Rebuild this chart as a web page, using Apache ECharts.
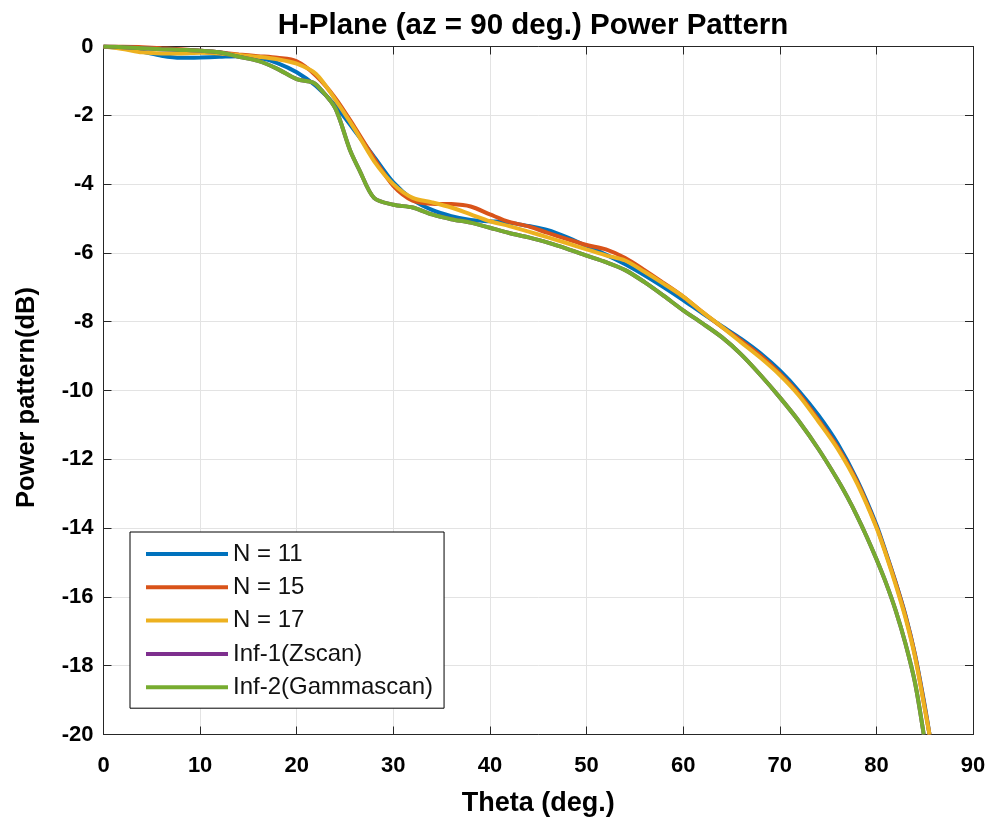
<!DOCTYPE html>
<html>
<head>
<meta charset="utf-8">
<title>H-Plane Power Pattern</title>
<script src="https://cdn.jsdelivr.net/npm/echarts@6/dist/echarts.min.js"></script>
<style>
  html, body { margin: 0; padding: 0; background: #fff; }
  #chart { width: 988px; height: 818px; }
</style>
</head>
<body>
<div id="chart"></div>
<script>
// data: [theta (deg), power (dB)]
var n11 = [[0,0],[2,-0.05],[4,-0.15],[6,-0.27],[8,-0.33],[10,-0.32],[12,-0.3],[14,-0.28],[16,-0.32],[18,-0.48],
  [20,-0.75],[22,-1.15],[24,-1.72],[26,-2.45],[28,-3.2],[30,-3.95],[32,-4.45],[34,-4.75],[36,-4.93],[38,-5.04],
  [40,-5.08],[42,-5.12],[44,-5.22],[46,-5.34],[48,-5.55],[50,-5.8],[52,-6.05],[54,-6.33],[56,-6.65],[58,-7.0],
  [60,-7.37],[62,-7.76],[64,-8.13],[66,-8.5],[68,-8.92],[70,-9.42],[72,-10.02],[74,-10.72],[76,-11.55],[78,-12.6],
  [80,-13.9],[81,-14.72],[82,-15.58],[83,-16.52],[84,-17.68],[85,-19.15],[85.5,-20]];
var n15 = [[0,0],[2,0],[4,-0.02],[6,-0.05],[8,-0.08],[10,-0.12],[12,-0.17],[14,-0.23],[16,-0.28],[18,-0.33],
  [20,-0.43],[22,-0.85],[24,-1.5],[26,-2.35],[28,-3.25],[30,-4.05],[32,-4.48],[34,-4.57],[36,-4.58],[38,-4.65],
  [40,-4.88],[42,-5.1],[44,-5.23],[46,-5.42],[48,-5.6],[50,-5.77],[52,-5.9],[54,-6.15],[56,-6.5],[58,-6.88],
  [60,-7.27],[62,-7.72],[64,-8.15],[66,-8.55],[68,-8.98],[70,-9.5],[72,-10.1],[74,-10.85],[76,-11.65],[78,-12.65],
  [80,-13.95],[81,-14.75],[82,-15.6],[83,-16.55],[84,-17.7],[85,-19.2],[85.5,-20]];
var n17 = [[0,0],[2,-0.07],[4,-0.17],[6,-0.2],[8,-0.2],[10,-0.18],[12,-0.2],[14,-0.25],[16,-0.3],[18,-0.37],
  [20,-0.5],[22,-0.8],[24,-1.55],[26,-2.4],[28,-3.33],[30,-4.0],[32,-4.4],[34,-4.53],[36,-4.68],[38,-4.88],
  [40,-5.08],[42,-5.22],[44,-5.38],[46,-5.55],[48,-5.72],[50,-5.9],[52,-6.07],[54,-6.22],[56,-6.55],[58,-6.9],
  [60,-7.27],[62,-7.72],[64,-8.15],[66,-8.6],[68,-9.05],[70,-9.55],[72,-10.15],[74,-10.9],[76,-11.7],[78,-12.7],
  [80,-13.98],[81,-14.78],[82,-15.65],[83,-16.6],[84,-17.75],[85,-19.25],[85.5,-20]];
var inf1 = [[0,0],[2,-0.02],[4,-0.05],[6,-0.08],[8,-0.1],[10,-0.12],[12,-0.17],[14,-0.3],[16,-0.42],[18,-0.65],
  [20,-0.95],[21.7,-1.05],[22.5,-1.25],[24,-1.8],[25.5,-3.0],[26.5,-3.6],[28,-4.4],[30,-4.6],[32,-4.68],[34,-4.88],
  [36,-5.02],[38,-5.12],[40,-5.27],[42,-5.42],[44,-5.55],[46,-5.7],[48,-5.88],[50,-6.08],[52,-6.27],[54,-6.5],
  [56,-6.85],[58,-7.25],[60,-7.67],[62,-8.05],[64,-8.45],[66,-8.95],[68,-9.55],[70,-10.2],[72,-10.9],[74,-11.7],
  [76,-12.6],[77,-13.1],[78,-13.65],[79,-14.25],[80,-14.9],[81,-15.6],[82,-16.4],[83,-17.35],[84,-18.5],[84.9,-20]];
var inf2 = [[0,0],[2,-0.02],[4,-0.05],[6,-0.08],[8,-0.1],[10,-0.12],[12,-0.17],[14,-0.3],[16,-0.42],[18,-0.65],
  [20,-0.95],[21.7,-1.05],[22.5,-1.25],[24,-1.8],[25.5,-3.0],[26.5,-3.6],[28,-4.4],[30,-4.6],[32,-4.68],[34,-4.88],
  [36,-5.02],[38,-5.12],[40,-5.27],[42,-5.42],[44,-5.55],[46,-5.7],[48,-5.88],[50,-6.08],[52,-6.27],[54,-6.5],
  [56,-6.85],[58,-7.25],[60,-7.67],[62,-8.05],[64,-8.45],[66,-8.95],[68,-9.55],[70,-10.2],[72,-10.9],[74,-11.7],
  [76,-12.6],[77,-13.1],[78,-13.65],[79,-14.25],[80,-14.9],[81,-15.6],[82,-16.4],[83,-17.35],[84,-18.5],[84.9,-20]];

var names = ['N = 11', 'N = 15', 'N = 17', 'Inf-1(Zscan)', 'Inf-2(Gammascan)'];
var colors = ['#0072BD', '#D95319', '#EDB120', '#7E2F8E', '#77AC30'];
var allData = [n11, n15, n17, inf1, inf2];

var boxColor = '#262626';
var font = '"Liberation Sans", Arial, sans-serif';

var chart = echarts.init(document.getElementById('chart'));

var series = [];
for (var i = 0; i < allData.length; i++) {
  series.push({
    name: names[i],
    type: 'line',
    data: allData[i],
    showSymbol: false,
    smooth: 0.3,
    lineStyle: { color: colors[i], width: 4 },
    itemStyle: { color: colors[i] },
    z: 2 + i
  });
}

// box lines with ticks pointing into the plot
var line = { show: true, onZero: false, lineStyle: { color: boxColor, width: 1 } };
var tick = { show: true, inside: true, length: 8, lineStyle: { color: boxColor } };

var option = {
  backgroundColor: '#fff',
  animation: false,
  title: {
    text: 'H-Plane (az = 90 deg.) Power Pattern',
    left: 528,
    top: 6,
    textAlign: 'center',
    textStyle: { fontFamily: font, fontWeight: 'bold', fontSize: 29.5, color: '#000' }
  },
  legend: {
    orient: 'vertical',
    left: 130,
    top: 532,
    icon: 'rect',
    itemWidth: 82,
    itemHeight: 4,
    itemGap: 9.3,
    padding: [10, 11, 9, 16],
    borderColor: '#000',
    borderWidth: 1,
    backgroundColor: '#fff',
    data: names,
    textStyle: { fontFamily: font, fontSize: 24, color: '#111', lineHeight: 24 }
  },
  grid: { left: 103.5, right: 15, top: 46.5, bottom: 83.5, outerBoundsMode: 'none' },
  xAxis: [{
    type: 'value',
    min: 0, max: 90, interval: 10,
    name: 'Theta (deg.)',
    nameLocation: 'middle',
    nameGap: 56,
    nameTextStyle: { fontFamily: font, fontWeight: 'bold', fontSize: 27, color: '#000' },
    axisLine: line,
    axisTick: tick,
    axisLabel: { margin: 20, fontFamily: font, fontWeight: 'bold', fontSize: 22, color: '#000' },
    splitLine: { show: true, lineStyle: { color: '#e3e3e3', width: 1 } }
  }, {
    type: 'value',
    position: 'top',
    min: 0, max: 90, interval: 10,
    axisLine: line,
    axisTick: tick,
    axisLabel: { show: false },
    splitLine: { show: false }
  }],
  yAxis: [{
    type: 'value',
    min: -20, max: 0, interval: 2,
    name: 'Power pattern(dB)',
    nameLocation: 'middle',
    nameGap: 64,
    nameTextStyle: { fontFamily: font, fontWeight: 'bold', fontSize: 25.5, color: '#000', padding: [0, 14, 0, 0] },
    axisLine: line,
    axisTick: tick,
    axisLabel: { margin: 10, fontFamily: font, fontWeight: 'bold', fontSize: 22, color: '#000' },
    splitLine: { show: true, lineStyle: { color: '#e3e3e3', width: 1 } }
  }, {
    type: 'value',
    position: 'right',
    min: -20, max: 0, interval: 2,
    axisLine: line,
    axisTick: tick,
    axisLabel: { show: false },
    splitLine: { show: false }
  }],
  series: series
};

chart.setOption(option);
</script>
</body>
</html>
